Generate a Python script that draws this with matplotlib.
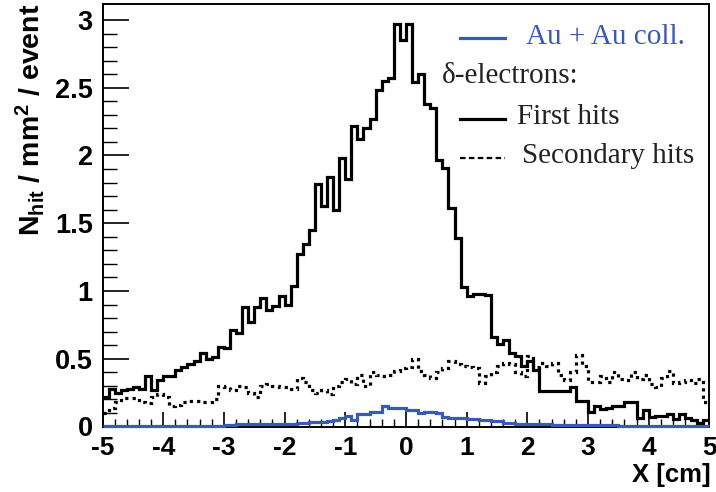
import numpy as np
import matplotlib
matplotlib.use("Agg")
import matplotlib.pyplot as plt
from matplotlib.lines import Line2D

# histogram binning: 100 bins from -5 to 5 cm
x_min, x_max, n_bins = -5.0, 5.0, 100

first_hits = [
    0.22, 0.28, 0.25, 0.27, 0.28, 0.29, 0.28, 0.37, 0.27, 0.34,
    0.37, 0.37, 0.42, 0.44, 0.46, 0.48, 0.54, 0.50, 0.51, 0.59,
    0.58, 0.71, 0.69, 0.88, 0.77, 0.88, 0.95, 0.86, 0.89, 0.96,
    0.90, 1.04, 1.27, 1.35, 1.45, 1.79, 1.63, 1.84, 1.60, 1.98,
    1.83, 2.22, 2.12, 2.20, 2.27, 2.48, 2.55, 2.57, 2.97, 2.85,
    2.97, 2.54, 2.60, 2.38, 2.35, 1.97, 1.91, 1.61, 1.39, 1.03,
    0.96, 0.98, 0.98, 0.97, 0.66, 0.61, 0.64, 0.54, 0.52, 0.45,
    0.48, 0.42, 0.26, 0.26, 0.26, 0.26, 0.26, 0.29, 0.19, 0.19,
    0.11, 0.15, 0.13, 0.14, 0.15, 0.15, 0.18, 0.18, 0.06, 0.12,
    0.07, 0.08, 0.08, 0.09, 0.055, 0.09, 0.06, 0.045, 0.025, 0.05,
]

secondary_hits = [
    0.10, 0.14, 0.18, 0.21, 0.21, 0.21, 0.18, 0.17, 0.22, 0.24,
    0.22, 0.15, 0.16, 0.18, 0.19, 0.19, 0.18, 0.18, 0.20, 0.30,
    0.29, 0.27, 0.30, 0.29, 0.25, 0.22, 0.30, 0.31, 0.30, 0.29,
    0.29, 0.28, 0.36, 0.33, 0.27, 0.25, 0.27, 0.24, 0.30, 0.33,
    0.35, 0.31, 0.38, 0.30, 0.40, 0.38, 0.37, 0.38, 0.41, 0.43,
    0.44, 0.50, 0.41, 0.38, 0.36, 0.40, 0.43, 0.48, 0.46, 0.45,
    0.44, 0.43, 0.32, 0.37, 0.40, 0.45, 0.47, 0.46, 0.40, 0.37,
    0.52, 0.44, 0.47, 0.45, 0.47, 0.38, 0.34, 0.40, 0.53, 0.45,
    0.33, 0.33, 0.37, 0.33, 0.40, 0.35, 0.34, 0.40, 0.35, 0.38,
    0.31, 0.29, 0.36, 0.41, 0.32, 0.33, 0.34, 0.32, 0.35, 0.18,
]

au_au = [
    0.003, 0.003, 0.003, 0.003, 0.003, 0.003, 0.003, 0.003, 0.003, 0.003,
    0.006, 0.006, 0.006, 0.006, 0.006, 0.006, 0.006, 0.006, 0.006, 0.006,
    0.012, 0.012, 0.015, 0.015, 0.015, 0.018, 0.020, 0.020, 0.020, 0.022,
    0.022, 0.022, 0.025, 0.025, 0.030, 0.030, 0.035, 0.040, 0.045, 0.060,
    0.080, 0.050, 0.095, 0.095, 0.110, 0.110, 0.148, 0.135, 0.133, 0.133,
    0.125, 0.120, 0.100, 0.105, 0.105, 0.100, 0.070, 0.066, 0.063, 0.060,
    0.055, 0.053, 0.050, 0.045, 0.042, 0.040, 0.025, 0.025, 0.022, 0.020,
    0.020, 0.018, 0.016, 0.015, 0.014, 0.013, 0.012, 0.012, 0.011, 0.010,
    0.010, 0.009, 0.009, 0.008, 0.008, 0.007, 0.007, 0.006, 0.006, 0.006,
    0.005, 0.005, 0.005, 0.005, 0.005, 0.005, 0.005, 0.005, 0.005, 0.005,
]

y_ticks = [0, 0.5, 1, 1.5, 2, 2.5, 3]
y_ticklabels = ["0", "0.5", "1", "1.5", "2", "2.5", "3"]
x_ticks = [-5, -4, -3, -2, -1, 0, 1, 2, 3, 4, 5]

blue = "#3a5bb5"

plt.rcParams["font.family"] = ["Liberation Sans", "DejaVu Sans"]
plt.rcParams["mathtext.fontset"] = "custom"
plt.rcParams["mathtext.rm"] = "Liberation Sans:bold"
plt.rcParams["mathtext.it"] = "Liberation Sans:bold"
plt.rcParams["mathtext.bf"] = "Liberation Sans:bold"

fig = plt.figure(figsize=(7.16, 4.92), dpi=100)
ax = fig.add_axes([102.5 / 716, 1 - 426.5 / 492, (709.4 - 102.5) / 716, (426.5 - 4) / 492])

edges = np.linspace(x_min, x_max, n_bins + 1)
ax.stairs(first_hits, edges, baseline=None, color="black", linewidth=2.3)
ax.stairs(secondary_hits, edges, baseline=None, color="black", linewidth=2.3,
          linestyle=(0, (1, 1.3)))
ax.stairs(au_au, edges, baseline=None, color=blue, linewidth=2.3, zorder=5, clip_on=False)

ax.set_xlim(x_min, x_max)
ax.set_ylim(0, 3.118)

ax.set_xticks(x_ticks)
ax.set_xticklabels([str(t) for t in x_ticks])
ax.set_xticks(np.arange(-5, 5.01, 0.2), minor=True)
ax.set_yticks(y_ticks)
ax.set_yticklabels(y_ticklabels)
ax.set_yticks(np.arange(0, 3.05, 0.1), minor=True)

ax.tick_params(axis="x", which="major", direction="in", length=11, width=1.2,
               labelsize=19, pad=7)
ax.tick_params(axis="x", which="minor", direction="in", length=5.5, width=1.0)
ax.tick_params(axis="y", which="major", direction="in", length=19, width=1.2,
               labelsize=19.5, pad=7)
ax.tick_params(axis="y", which="minor", direction="in", length=10, width=1.0)
for lab in ax.get_xticklabels() + ax.get_yticklabels():
    lab.set_fontweight("bold")
for sp in ax.spines.values():
    sp.set_linewidth(1.4)

# axis titles, ROOT style
fig.text(711 / 716, 1 - 463 / 492, "X [cm]", ha="right", va="top",
         fontsize=18.5, fontweight="bold")
fig.text(30 / 716, 1 - 4 / 492, r"N$_{\mathregular{hit}}$ / mm$^{\mathregular{2}}$ / event",
         rotation=90, ha="center", va="top", fontsize=20.5, fontweight="bold")

# legend drawn by hand
serif = ["Liberation Serif", "DejaVu Serif"]
x0, x1 = (460 - 102.5) / 606.9, (505 - 102.5) / 606.9


def ypos(py):
    return (426.5 - py) / 422.5


ax.add_line(Line2D([x0, x1], [ypos(38), ypos(38)], transform=ax.transAxes,
                   color=blue, linewidth=2.3))
ax.text((526 - 102.5) / 606.9, ypos(37), "Au + Au coll.", transform=ax.transAxes,
        ha="left", va="center", fontsize=21, color=blue, family=serif)
ax.text((442 - 102.5) / 606.9, ypos(76), "\u03b4-electrons:", transform=ax.transAxes,
        ha="left", va="center", fontsize=21, color="#222222", family=serif)
ax.add_line(Line2D([x0, x1], [ypos(119), ypos(119)], transform=ax.transAxes,
                   color="black", linewidth=2.3))
ax.text((517 - 102.5) / 606.9, ypos(117), "First hits", transform=ax.transAxes,
        ha="left", va="center", fontsize=21, color="#222222", family=serif)
ax.add_line(Line2D([x0, x1], [ypos(158), ypos(158)], transform=ax.transAxes,
                   color="black", linewidth=1.6, linestyle=(0, (2.5, 1.5))))
ax.text((522 - 102.5) / 606.9, ypos(156), "Secondary hits", transform=ax.transAxes,
        ha="left", va="center", fontsize=21, color="#222222", family=serif)

fig.savefig("out.png", dpi=100)
